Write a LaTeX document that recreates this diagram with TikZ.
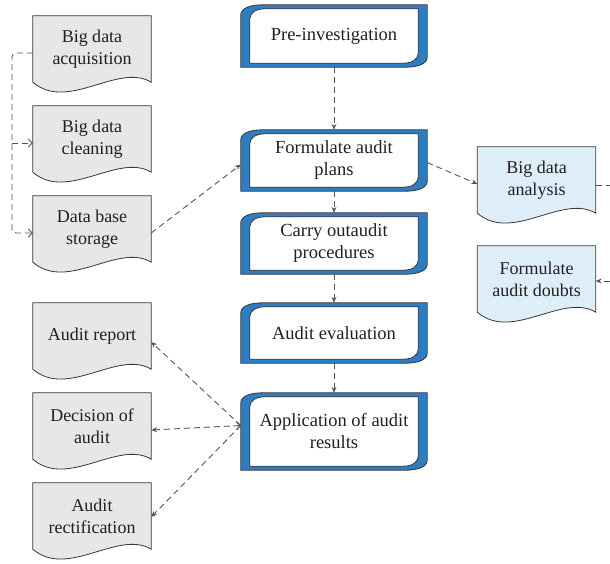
\documentclass[tikz,border=0pt]{standalone}
\usepackage{fontspec}
\setmainfont{Liberation Serif}
\usetikzlibrary{arrows.meta,calc,backgrounds}
\definecolor{docgray}{RGB}{231,231,231}
\definecolor{doclblue}{RGB}{221,238,249}
\definecolor{boxblue}{RGB}{46,124,194}
\definecolor{edgecol}{RGB}{55,55,55}
\definecolor{conn}{RGB}{85,85,85}
\definecolor{txt}{RGB}{35,31,32}
\tikzset{
 doc/.style={minimum width=118pt, minimum height=66pt, inner sep=0pt, align=center, text=txt, font=\fontsize{18}{22}\selectfont},
 blk/.style={minimum width=186pt, minimum height=61pt, inner sep=0pt, align=center, text=txt, font=\fontsize{18.5}{22}\selectfont},
 link/.style={draw=conn, line width=0.9pt, dash pattern=on 6pt off 4pt, -{Stealth[length=6pt,width=5pt]}},
 barb/.style={draw=conn, line width=0.9pt, dash pattern=on 6pt off 4pt, -{Straight Barb[length=4pt,width=8pt]}},
 shapeline/.style={draw=edgecol, line width=0.8pt},
}
\newcommand\docpath[2]{\path[shapeline, fill=#2] (#1.north west) -- (#1.north east) -- (#1.south east) .. controls +(-33,-20) and +(35,30) .. (#1.south west) -- cycle;}
\newcommand\blkpath[1]{%
 \path[shapeline, fill=boxblue] (#1.south west) -- ($(#1.north west)+(0,10)$) .. controls +(0,-7) and +(-12,0) .. ($(#1.north west)+(22,0)$) -- (#1.north east) -- ($(#1.south east)+(0,-10)$) .. controls +(0,7) and +(12,0) .. ($(#1.south east)+(-22,0)$) -- cycle;
 \path[shapeline, fill=white] ($(#1.south west)+(9,-4)$) -- ($(#1.north west)+(9,14)$) .. controls +(0,-6) and +(-9,0) .. ($(#1.north west)+(24,4)$) -- ($(#1.north east)+(-9,4)$) -- ($(#1.south east)+(-9,-14)$) .. controls +(0,6) and +(9,0) .. ($(#1.south east)+(-24,-4)$) -- cycle;}
\begin{document}
\begin{tikzpicture}[x=1pt,y=-1pt]
\useasboundingbox (0,0) rectangle (610,563);
% left documents
\node[doc] (acq) at (92,49) {Big data\\acquisition};
\node[doc] (clean) at (92,139) {Big data\\cleaning};
\node[doc] (stor) at (92,229) {Data base\\storage};
\node[doc] (rep) at (92,336) {Audit report};
\node[doc] (dec) at (92,426) {Decision of\\audit};
\node[doc] (rectif) at (92,516) {Audit\\rectification};
% right documents
\node[doc] (ana) at (536.5,180) {Big data\\analysis};
\node[doc] (doubts) at (536.5,279) {Formulate\\audit doubts};
% central blocks
\node[blk, minimum height=62pt] (pre) at (334,36) {Pre-investigation};
\node[blk] (form) at (334,160.5) {Formulate audit\\plans};
\node[blk] (carry) at (334,243.5) {Carry outaudit\\procedures};
\node[blk, minimum height=60pt] (eval) at (334,333) {Audit evaluation};
\node[blk, minimum height=77pt] (app) at (334,431.5) {Application of audit\\results};
\begin{scope}[on background layer]
\docpath{acq}{docgray}
\docpath{clean}{docgray}
\docpath{stor}{docgray}
\docpath{rep}{docgray}
\docpath{dec}{docgray}
\docpath{rectif}{docgray}
\docpath{ana}{doclblue}
\docpath{doubts}{doclblue}
\blkpath{pre}
\blkpath{form}
\blkpath{carry}
\blkpath{eval}
\blkpath{app}
\end{scope}
% left loop
\coordinate (lx) at (12,0);
\draw[barb, rounded corners=4pt] ($(acq.west)+(0,4)$) -- ($(lx |- acq.west)+(0,4)$) -- ($(lx |- stor.west)+(0,4)$) -- ($(stor.west)+(0,4)$);
\draw[barb] ($(lx |- clean.west)+(0,4)$) -- ($(clean.west)+(0,4)$);
% main flow
\draw[link] ($(stor.east)+(0,4)$) -- ($(form.west)+(0,4)$);
\draw[link] (pre.south) -- (form.north);
\draw[link] (form.south) -- (carry.north);
\draw[link] (carry.south) -- (eval.north);
\draw[link] (eval.south) -- (app.north);
\draw[link] ($(form.east)+(0,2)$) -- ($(ana.west)+(0,4)$);
% right loop (leaves the picture)
\begin{scope}
\clip (0,0) rectangle (610,563);
\coordinate (rx) at (625,0);
\draw[link] ($(ana.east)+(0,5)$) -- ($(rx |- ana.east)+(0,5)$) -- ($(rx |- doubts.east)+(0,2)$) -- ($(doubts.east)+(0,2)$);
\end{scope}
% results
\coordinate (appin) at ($(app.west)+(0,-6)$);
\draw[link] (appin) -- ($(rep.east)+(0,6)$);
\draw[link, {Straight Barb[length=4pt,width=8pt]}-{Stealth[length=6pt,width=5pt]}] (appin) -- ($(dec.east)+(0,4)$);
\draw[link] (appin) -- ($(rectif.east)+(0,1)$);
\end{tikzpicture}
\end{document}
